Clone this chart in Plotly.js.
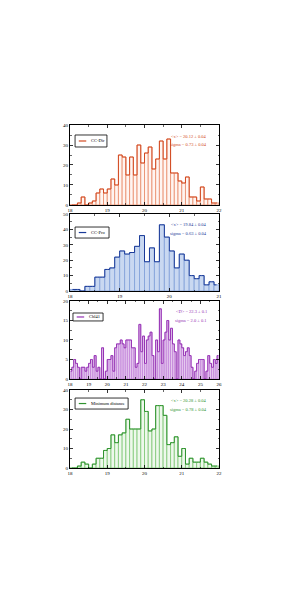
<!DOCTYPE html>
<html><head><meta charset="utf-8">
<script src="https://cdn.plot.ly/plotly-3.0.1.min.js"></script>
<style>html,body{margin:0;padding:0;background:#fff}#chart{width:284px;height:599px}</style>
</head><body><div id="chart"></div>
<script>
// ---- data ----
const seriesNames = ["CC-Dir", "CC-Pro", "Chl41", "Minimum distance"];
const statMean = ["&lt;x&gt; = 20.12 ± 0.04", "&lt;x&gt; = 19.84 ± 0.04", "&lt;D&gt; = 22.3 ± 0.1", "&lt;x&gt; = 20.28 ± 0.04"];
const statSigma = ["sigma = 0.73 ± 0.04", "sigma = 0.63 ± 0.04", "sigma = 2.0 ± 0.1", "sigma = 0.78 ± 0.04"];
const binStart = [18, 18, 18, 18];
const binWidth = [0.1, 0.1, 0.1, 0.1];
const countsDir = [0,0,1,4,0,1,2,6,8,6, 8,13,10,25,24,15,24,15,30,21, 26,29,18,23,32,23,33,16,16,12, 11,14,4,4,2,9,3,3,1,1];
const countsPro = [1,1,0,3,3,9,9,14,15,22, 26,24,25,29,36,19,28,19,43,35, 26,15,24,20,10,8,10,4,6,4];
const countsChl = [2,3,5,4,3,0,3,3,2,3, 4,5,3,6,2,3,0,8,0,2, 5,5,6,2,8,9,9,10,9,8, 10,10,10,8,8,3,4,14,7,11, 4,10,11,12,6,0,10,7,18,4, 10,12,15,10,13,9,7,0,10,9, 8,6,7,8,6,3,0,2,4,5, 5,5,0,2,6,4,3,5,4,6];
const countsMin = [0,0,1,3,2,0,2,5,5,9, 10,17,13,17,18,25,20,20,20,35, 29,19,20,32,32,27,12,13,16,6, 10,2,5,3,3,5,3,2,1,1];
const xRanges = [[18,22],[18,21],[18,26],[18,22]];
const yRanges = [[0,40],[0,50],[0,20],[0,40]];
const yDticks = [10, 10, 5, 10];

// ---- styles ----
const allCounts = [countsDir, countsPro, countsChl, countsMin];
const dark = ["#d24a22", "#1a3a98", "#9632b4", "#2f932f"];
const edge = ["#e98a68", "#7f9ed8", "#c07fd8", "#7cc673"];
const fill = ["#fff5f1", "#c9d8f1", "#ecd6f3", "#eef8ec"];
const domains = [[0.7668,1.0],[0.516,0.7405],[0.2595,0.4869],[0,0.2274]];
const legendBox = [[0.034,0.248,0.725,0.875],[0.034,0.262,0.688,0.831],[0.02,0.222,0.744,0.846],[0.034,0.39,0.756,0.897]];
const FONT = "Liberation Serif, Times New Roman, serif";

const traces = [];
const layout = {
  width: 284, height: 599, showlegend: false,
  margin: {l: 70, r: 65, t: 125, b: 131},
  paper_bgcolor: "#fff", plot_bgcolor: "#fff",
  font: {family: FONT, size: 5, color: "#000"},
  bargap: 0, shapes: [], annotations: []
};

for (let i = 0; i < 4; i++) {
  const sx = i === 0 ? "" : String(i + 1);
  traces.push({
    type: "bar", y: allCounts[i], x0: binStart[i] + binWidth[i] / 2, dx: binWidth[i],
    xaxis: "x" + sx, yaxis: "y" + sx,
    marker: {color: fill[i], line: {color: edge[i], width: 0.8}},
    hoverinfo: "skip"
  });
  traces.push({
    type: "scatter", mode: "lines", y: allCounts[i], x0: binStart[i] + binWidth[i] / 2, dx: binWidth[i],
    xaxis: "x" + sx, yaxis: "y" + sx, name: seriesNames[i],
    line: {color: dark[i], width: 1, shape: "hvh"}, hoverinfo: "skip"
  });
  const xr = xRanges[i];
  layout["xaxis" + sx] = {
    domain: [0, 1], anchor: "y" + sx, range: xr, dtick: 1, tick0: xr[0],
    showgrid: false, zeroline: false, showline: true, linecolor: "#000", linewidth: 1,
    mirror: "allticks", ticks: "inside", ticklen: 3, tickcolor: "#000", tickwidth: 0.8,
    minor: {dtick: 0.5, ticklen: 1.5, ticks: "inside", tickcolor: "#000", tickwidth: 0.6},
    tickfont: {family: FONT, size: 5}
  };
  const yr = yRanges[i];
  layout["yaxis" + sx] = {
    domain: domains[i], anchor: "x" + sx, range: yr, dtick: yDticks[i], tick0: 0,
    showgrid: false, zeroline: false, showline: true, linecolor: "#000", linewidth: 1,
    mirror: "allticks", ticks: "inside", ticklen: 3, tickcolor: "#000", tickwidth: 0.8,
    minor: {dtick: yDticks[i] / 2, ticklen: 1.5, ticks: "inside", tickcolor: "#000", tickwidth: 0.6},
    tickfont: {family: FONT, size: 5}
  };
  const xd = "x" + sx + " domain", yd = "y" + sx + " domain";
  const b = legendBox[i];
  layout.shapes.push({type: "rect", xref: xd, yref: yd, x0: b[0], x1: b[1], y0: b[2], y1: b[3],
    line: {color: "#000", width: 0.8}, fillcolor: "#fff", layer: "above"});
  const ym = (b[2] + b[3]) / 2;
  layout.shapes.push({type: "line", xref: xd, yref: yd, x0: b[0] + 0.025, x1: b[0] + 0.075, y0: ym, y1: ym,
    line: {color: dark[i], width: 1.2}, layer: "above"});
  layout.annotations.push({xref: xd, yref: yd, x: b[0] + 0.095, y: ym, text: seriesNames[i],
    showarrow: false, xanchor: "left", yanchor: "middle", font: {family: FONT, size: 4.5, color: "#000"}});
  layout.annotations.push({xref: xd, yref: yd, x: 0.93, y: 0.86, text: statMean[i],
    showarrow: false, xanchor: "right", yanchor: "middle", font: {family: FONT, size: 4.5, color: dark[i]}});
  layout.annotations.push({xref: xd, yref: yd, x: 0.93, y: 0.75, text: statSigma[i],
    showarrow: false, xanchor: "right", yanchor: "middle", font: {family: FONT, size: 4.5, color: dark[i]}});
}

Plotly.newPlot("chart", traces, layout, {staticPlot: true, displayModeBar: false});
</script>
</body></html>
